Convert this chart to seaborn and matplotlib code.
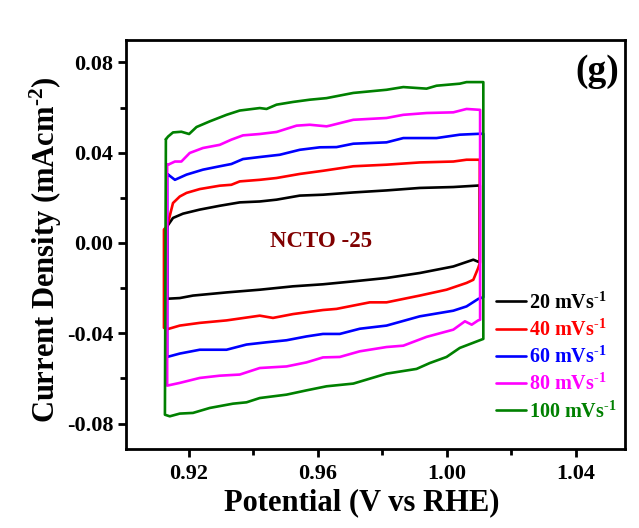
import matplotlib
matplotlib.use("Agg")
import matplotlib.pyplot as plt
import seaborn as sns
import pandas as pd
from matplotlib.ticker import MultipleLocator

# ---- data ----
rates = ["20 mVs$^{\\text{-1}}$", "40 mVs$^{\\text{-1}}$", "60 mVs$^{\\text{-1}}$",
         "80 mVs$^{\\text{-1}}$", "100 mVs$^{\\text{-1}}$"]
colors = ["#000000", "#ff0000", "#0000ff", "#ff00ff", "#008000"]

# 20 mV/s
v20 = [0.9133, 0.9151, 0.9182, 0.9234, 0.9296, 0.9358, 0.9420, 0.9472, 0.9544, 0.9616, 0.9710, 0.9813, 0.9916, 1.0020, 1.0102,
       1.0102, 1.0082, 1.0020, 0.9916, 0.9813, 0.9710, 0.9616, 0.9523, 0.9420, 0.9317, 0.9213, 0.9172, 0.9133, 0.9133]
i20 = [0.0074, 0.0111, 0.0130, 0.0148, 0.0165, 0.0180, 0.0184, 0.0192, 0.0210, 0.0214, 0.0224, 0.0233, 0.0244, 0.0248, 0.0255,
       -0.0086, -0.0074, -0.0104, -0.0133, -0.0155, -0.0170, -0.0183, -0.0192, -0.0207, -0.0219, -0.0233, -0.0244, -0.0247, 0.0074]

# 40 mV/s
v40 = [0.9133, 0.9151, 0.9172, 0.9193, 0.9234, 0.9296, 0.9332, 0.9358, 0.9420, 0.9472, 0.9544, 0.9616, 0.9710, 0.9813, 0.9916, 1.0020, 1.0061, 1.0102,
       1.0102, 1.0097, 1.0082, 1.0061, 0.9999, 0.9916, 0.9813, 0.9761, 0.9658, 0.9616, 0.9523, 0.9461, 0.9420, 0.9317, 0.9234, 0.9172, 0.9136, 0.9123, 0.9123, 0.9133]
i40 = [0.0074, 0.0177, 0.0206, 0.0222, 0.0239, 0.0254, 0.0258, 0.0273, 0.0280, 0.0288, 0.0306, 0.0320, 0.0340, 0.0347, 0.0357, 0.0361, 0.0369, 0.0369,
       -0.0090, -0.0111, -0.0163, -0.0177, -0.0207, -0.0233, -0.0263, -0.0263, -0.0292, -0.0297, -0.0315, -0.0332, -0.0322, -0.0343, -0.0354, -0.0366, -0.0381, -0.0376, 0.0060, 0.0074]

# 60 mV/s
v60 = [0.9136, 0.9157, 0.9193, 0.9244, 0.9296, 0.9332, 0.9368, 0.9420, 0.9482, 0.9544, 0.9606, 0.9658, 0.9710, 0.9813, 0.9865, 0.9968, 1.0040, 1.0102, 1.0113,
       1.0113, 1.0097, 1.0061, 1.0020, 0.9916, 0.9813, 0.9730, 0.9668, 0.9616, 0.9565, 0.9503, 0.9441, 0.9379, 0.9317, 0.9234, 0.9172, 0.9133, 0.9133, 0.9136]
i60 = [0.0303, 0.0280, 0.0303, 0.0325, 0.0340, 0.0350, 0.0372, 0.0381, 0.0391, 0.0413, 0.0424, 0.0425, 0.0440, 0.0446, 0.0465, 0.0465, 0.0480, 0.0484, 0.0484,
       -0.0240, -0.0248, -0.0281, -0.0300, -0.0325, -0.0366, -0.0380, -0.0403, -0.0403, -0.0414, -0.0431, -0.0440, -0.0450, -0.0473, -0.0473, -0.0490, -0.0505, 0.0303, 0.0303]

# 80 mV/s
v80 = [0.9136, 0.9157, 0.9177, 0.9203, 0.9244, 0.9296, 0.9332, 0.9368, 0.9420, 0.9472, 0.9534, 0.9575, 0.9627, 0.9637, 0.9710, 0.9813, 0.9865, 0.9937, 1.0020, 1.0061, 1.0103,
       1.0103, 1.0097, 1.0077, 1.0056, 1.0020, 0.9937, 0.9865, 0.9813, 0.9730, 0.9668, 0.9616, 0.9565, 0.9503, 0.9420, 0.9358, 0.9296, 0.9234, 0.9172, 0.9133, 0.9133, 0.9136]
i80 = [0.0347, 0.0361, 0.0361, 0.0399, 0.0421, 0.0435, 0.0458, 0.0477, 0.0483, 0.0492, 0.0520, 0.0524, 0.0517, 0.0520, 0.0546, 0.0554, 0.0568, 0.0576, 0.0579, 0.0594, 0.0590,
       -0.0340, -0.0343, -0.0362, -0.0347, -0.0384, -0.0416, -0.0455, -0.0461, -0.0480, -0.0505, -0.0507, -0.0529, -0.0547, -0.0554, -0.0583, -0.0588, -0.0598, -0.0620, -0.0632, 0.0347, 0.0347]

# 100 mV/s
v100 = [0.9129, 0.9136, 0.9151, 0.9177, 0.9201, 0.9224, 0.9265, 0.9317, 0.9358, 0.9420, 0.9441, 0.9472, 0.9523, 0.9575, 0.9627, 0.9710, 0.9813, 0.9865, 0.9937, 0.9968, 1.0040, 1.0061, 1.0113,
        1.0113, 1.0040, 0.9999, 0.9947, 0.9906, 0.9813, 0.9710, 0.9627, 0.9565, 0.9503, 0.9420, 0.9379, 0.9337, 0.9265, 0.9213, 0.9172, 0.9141, 0.9126, 0.9129]
i100 = [0.0460, 0.0472, 0.0490, 0.0493, 0.0483, 0.0514, 0.0539, 0.0568, 0.0587, 0.0598, 0.0594, 0.0613, 0.0625, 0.0635, 0.0642, 0.0665, 0.0679, 0.0691, 0.0684, 0.0697, 0.0706, 0.0713, 0.0713,
        -0.0425, -0.0465, -0.0505, -0.0532, -0.0558, -0.0579, -0.0623, -0.0635, -0.0653, -0.0672, -0.0687, -0.0706, -0.0712, -0.0731, -0.0753, -0.0756, -0.0768, -0.0761, 0.0460]

x_ticks = [0.92, 0.96, 1.00, 1.04]
y_ticks = [-0.08, -0.04, 0.00, 0.04, 0.08]

series = [(v20, i20), (v40, i40), (v60, i60), (v80, i80), (v100, i100)]
frames = []
for name, (vv, ii) in zip(rates, series):
    frames.append(pd.DataFrame({"V": vv, "I": ii, "rate": name, "step": range(len(vv))}))
df = pd.concat(frames, ignore_index=True)

# ---- plot ----
sns.set_style("ticks")
plt.rcParams["font.family"] = ["Liberation Serif", "DejaVu Serif"]
plt.rcParams["font.weight"] = "bold"
plt.rcParams["text.color"] = "black"
plt.rcParams["axes.labelcolor"] = "black"
plt.rcParams["xtick.color"] = "black"
plt.rcParams["ytick.color"] = "black"
plt.rcParams["axes.edgecolor"] = "black"
plt.rcParams["mathtext.fontset"] = "custom"
plt.rcParams["mathtext.rm"] = "Liberation Serif:bold"
plt.rcParams["mathtext.it"] = "Liberation Serif:bold"
plt.rcParams["mathtext.bf"] = "Liberation Serif:bold"
plt.rcParams["mathtext.default"] = "rm"

fig = plt.figure(figsize=(6.39, 5.28), dpi=100)
ax = fig.add_axes([0.197, 0.150, 0.781, 0.774])

sns.lineplot(data=df, x="V", y="I", hue="rate", hue_order=rates,
             palette=dict(zip(rates, colors)), sort=False, estimator=None,
             units="rate", linewidth=1.9, ax=ax)

ax.set_xlim(0.9005, 1.0552)
ax.set_ylim(-0.0912, 0.0899)
ax.set_xticks(x_ticks)
ax.set_xticklabels([f"{t:.2f}" for t in x_ticks])
ax.set_yticks(y_ticks)
ax.set_yticklabels([f"{t:.2f}" for t in y_ticks])
ax.xaxis.set_minor_locator(MultipleLocator(0.02))
ax.yaxis.set_minor_locator(MultipleLocator(0.02))
ax.tick_params(which="major", direction="out", length=6, width=2, labelsize=16, pad=5,
               colors="black")
ax.tick_params(axis="y", which="major", pad=3)
ax.tick_params(which="minor", direction="out", length=4, width=2, colors="black")
for lab in ax.get_xticklabels() + ax.get_yticklabels():
    lab.set_fontweight("bold")
for sp in ax.spines.values():
    sp.set_linewidth(2)
    sp.set_color("black")
    sp.set_visible(True)

ax.set_xlabel("Potential (V vs RHE)", fontsize=22, fontweight="bold", labelpad=3)
ax.set_ylabel("Current Density (mAcm$^{\\text{-2}}$)", fontsize=22, fontweight="bold", labelpad=2)
ax.xaxis.label.set_x(0.472)
ax.yaxis.label.set_y(0.487)

ax.text(0.9609, 0.0005, "NCTO -25", color="#800000", fontsize=16.5, fontweight="bold",
        ha="center", va="center")
ax.text(0.988, 0.965, "(g)", transform=ax.transAxes, fontsize=27, fontweight="bold",
        ha="right", va="top")

leg = ax.legend(loc="lower right", bbox_to_anchor=(1.0, 0.045), frameon=False, fontsize=14.5,
                handlelength=1.5, handletextpad=0.15, labelspacing=0.3, borderaxespad=0.0,
                labelcolor="linecolor", title=None)
for t in leg.get_texts():
    t.set_fontweight("bold")

fig.savefig("out.png", dpi=100)
